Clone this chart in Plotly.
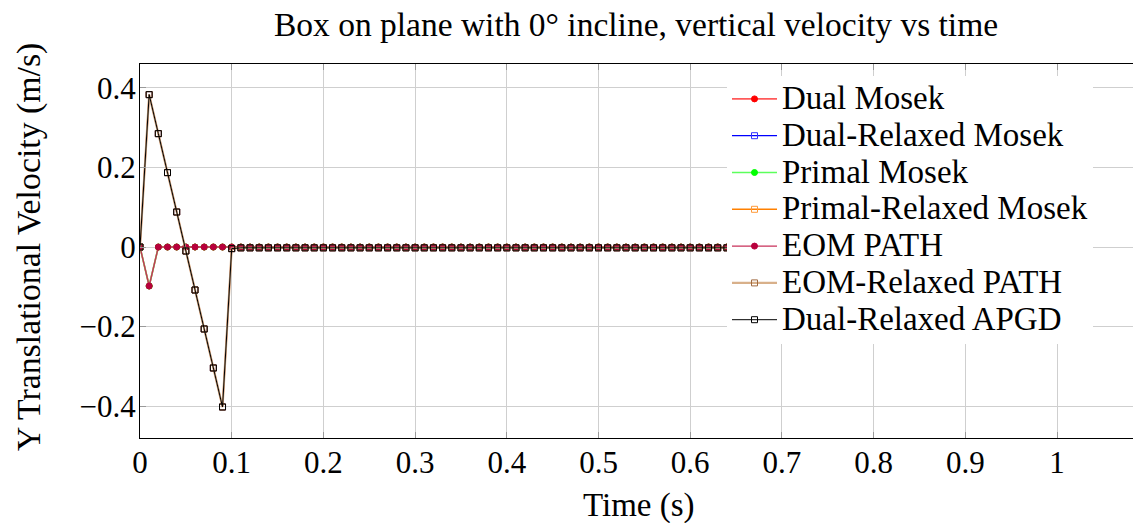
import plotly.graph_objects as go

time_s = [round(i * 0.01, 2) for i in range(101)]

# Non-relaxed solvers (Dual Mosek, Primal Mosek, EOM PATH)
v_exact = [
    0.0, -0.098, 0.0, 0.0, 0.0, 0.0, 0.0, 0.0, 0.0, 0.0,
    0.0, 0.0, 0.0, 0.0, 0.0, 0.0, 0.0, 0.0, 0.0, 0.0,
    0.0, 0.0, 0.0, 0.0, 0.0, 0.0, 0.0, 0.0, 0.0, 0.0,
    0.0, 0.0, 0.0, 0.0, 0.0, 0.0, 0.0, 0.0, 0.0, 0.0,
    0.0, 0.0, 0.0, 0.0, 0.0, 0.0, 0.0, 0.0, 0.0, 0.0,
    0.0, 0.0, 0.0, 0.0, 0.0, 0.0, 0.0, 0.0, 0.0, 0.0,
    0.0, 0.0, 0.0, 0.0, 0.0, 0.0, 0.0, 0.0, 0.0, 0.0,
    0.0, 0.0, 0.0, 0.0, 0.0, 0.0, 0.0, 0.0, 0.0, 0.0,
    0.0, 0.0, 0.0, 0.0, 0.0, 0.0, 0.0, 0.0, 0.0, 0.0,
    0.0, 0.0, 0.0, 0.0, 0.0, 0.0, 0.0, 0.0, 0.0, 0.0,
    0.0,
]

# Relaxed solvers (Dual-Relaxed Mosek, Primal-Relaxed Mosek, EOM-Relaxed PATH, Dual-Relaxed APGD)
v_relaxed = [
    0.0, 0.383, 0.285, 0.187, 0.088, -0.010, -0.108, -0.206, -0.304, -0.402,
    -0.004, -0.002, -0.002, -0.002, -0.002, -0.002, -0.002, -0.002, -0.002, -0.002,
    -0.002, -0.002, -0.002, -0.002, -0.002, -0.002, -0.002, -0.002, -0.002, -0.002,
    -0.002, -0.002, -0.002, -0.002, -0.002, -0.002, -0.002, -0.002, -0.002, -0.002,
    -0.002, -0.002, -0.002, -0.002, -0.002, -0.002, -0.002, -0.002, -0.002, -0.002,
    -0.002, -0.002, -0.002, -0.002, -0.002, -0.002, -0.002, -0.002, -0.002, -0.002,
    -0.002, -0.002, -0.002, -0.002, -0.002, -0.002, -0.002, -0.002, -0.002, -0.002,
    -0.002, -0.002, -0.002, -0.002, -0.002, -0.002, -0.002, -0.002, -0.002, -0.002,
    -0.002, -0.002, -0.002, -0.002, -0.002, -0.002, -0.002, -0.002, -0.002, -0.002,
    -0.002, -0.002, -0.002, -0.002, -0.002, -0.002, -0.002, -0.002, -0.002, -0.002,
    -0.002,
]

series_names = ["Dual Mosek", "Dual-Relaxed Mosek", "Primal Mosek", "Primal-Relaxed Mosek",
                "EOM PATH", "EOM-Relaxed PATH", "Dual-Relaxed APGD"]
series_values = [v_exact, v_relaxed, v_exact, v_relaxed, v_exact, v_relaxed, v_relaxed]
line_colors = ["#ff5a5a", "#0000ff", "#5cff5c", "#ff8000", "#c8305a", "#d8b08a", "#000000"]
marker_colors = ["#ff0000", "#3030ff", "#00ff00", "#ff9a3a", "#b8003c", "#a06a40", "#000000"]
line_widths = [1.6, 1.3, 1.6, 1.5, 1.3, 2.2, 1.0]
symbols = ["circle", "square-open", "circle", "square-open", "circle", "square-open", "square-open"]

FONT = "Liberation Serif"

# The plot area runs slightly past the right edge of the window, as in the reference.
W, H = 1142, 523
L, T, B = 140, 64, 85
PLOT_W, PLOT_H = W - L, H - T - B
PX_PER_X = 917.0  # pixels per 1.0 s on the x axis
X_MAX = PLOT_W / PX_PER_X


def px_to_paper_x(page_x):
    return (page_x - L) / PLOT_W


def px_to_paper_y(page_y):
    return 1 - (page_y - T) / PLOT_H


fig = go.Figure()
for name, vals, lc, mc, lw, sym in zip(series_names, series_values, line_colors,
                                        marker_colors, line_widths, symbols):
    fig.add_trace(go.Scatter(
        x=time_s, y=vals, mode="lines+markers",
        name='<span style="font-size:33px">' + name + '</span>',
        line=dict(color=lc, width=lw),
        marker=dict(symbol=sym, size=6, color=mc, line=dict(color=mc, width=1)),
    ))

fig.update_layout(
    width=W, height=H,
    margin=dict(l=L, r=0, t=T, b=B, autoexpand=False),
    paper_bgcolor="white", plot_bgcolor="white",
    font=dict(family=FONT, size=26, color="black"),
    title=dict(text="Box on plane with 0° incline, vertical velocity vs time",
               x=px_to_paper_x(636), xref="paper", y=1 - 24 / H, yref="container",
               yanchor="middle", xanchor="center",
               font=dict(family=FONT, size=33.5, color="black")),
    legend=dict(x=px_to_paper_x(1093), xanchor="right",
                y=px_to_paper_y(75.5), yanchor="top",
                bgcolor="white", borderwidth=0,
                font=dict(family=FONT, size=26, color="black"),
                tracegroupgap=0, itemwidth=45),
    showlegend=True,
    annotations=[
        dict(text="Time (s)", xref="paper", yref="paper", x=px_to_paper_x(639),
             y=px_to_paper_y(505),
             xanchor="center", yanchor="middle", showarrow=False,
             font=dict(family=FONT, size=33, color="black")),
        dict(text="Y Translational Velocity (m/s)", xref="paper", yref="paper",
             x=px_to_paper_x(29), y=px_to_paper_y(247), textangle=-90,
             xanchor="center", yanchor="middle", showarrow=False,
             font=dict(family=FONT, size=33.8, color="black")),
    ],
)

fig.update_xaxes(
    range=[0, X_MAX], dtick=0.1, tick0=0, automargin=False,
    showgrid=True, gridcolor="#cfcfcf", gridwidth=1,
    showline=True, linecolor="black", linewidth=1, mirror="ticks",
    ticks="inside", ticklen=6, tickcolor="#9a9a9a",
    zeroline=False, ticklabelstandoff=-3,
    tickfont=dict(family=FONT, size=31),
)
fig.update_yaxes(
    range=[-0.48, 0.46], dtick=0.2, tick0=0, automargin=False,
    showgrid=True, gridcolor="#cfcfcf", gridwidth=1,
    showline=True, linecolor="black", linewidth=1, mirror="ticks",
    ticks="inside", ticklen=6, tickcolor="#9a9a9a",
    zeroline=False, ticklabelstandoff=-3,
    tickfont=dict(family=FONT, size=31),
)

# Remove the default 8px page margin and any scrollbars so the figure sits at (0, 0).
fig.write_html(
    "out.html",
    config={"displayModeBar": False},
    post_script="document.body.style.margin='0';document.body.style.overflow='hidden';"
                "document.documentElement.style.overflow='hidden';",
)
